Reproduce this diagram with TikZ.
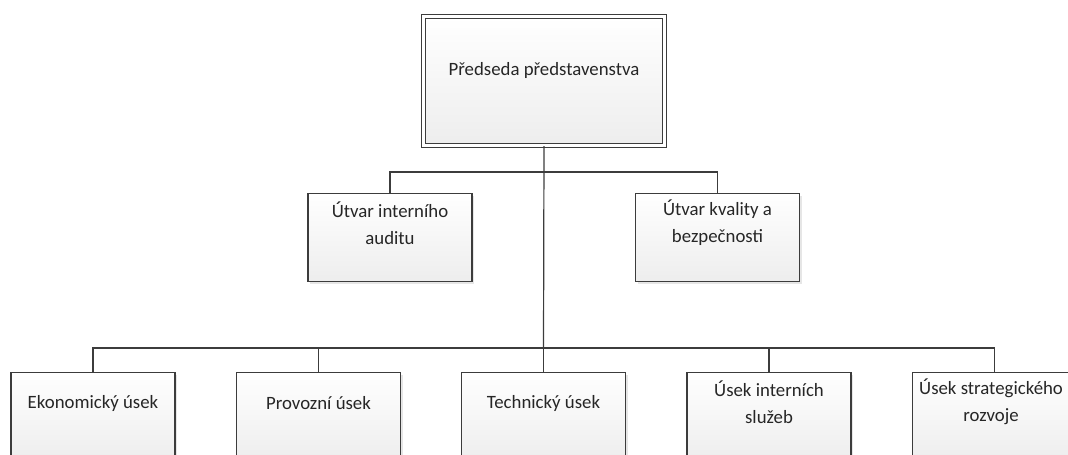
\documentclass[tikz,border=0pt]{standalone}
\usepackage{fontspec}
\setmainfont{Carlito}
\usetikzlibrary{shadows}
\definecolor{linegray}{HTML}{3C3C3C}
\begin{document}
\begin{tikzpicture}[x=1pt, y=-1pt,
    unit/.style={draw=linegray, line width=1.2pt, top color=white, bottom color=gray!14,
      minimum width=164pt, minimum height=88pt, inner sep=0pt, anchor=north,
      drop shadow={shadow xshift=2pt, shadow yshift=-2pt, opacity=.2}},
    lbl/.style={align=center, font=\fontsize{18.8}{27}\selectfont, text=black!85},
    conn/.style={draw=linegray, line width=1.2pt}]
  \useasboundingbox (0,0) rectangle (1068,455);
  \clip (0,0) rectangle (1068,455);

  % chairman
  \node [unit, anchor=center, minimum width=241pt, minimum height=129pt, line width=1.1pt,
    double=white, double distance=2.4pt] (pred) at (544,81) {};
  \node [lbl] (pred-t) at (544,70) {Předseda představenstva};

  % staff units
  \node [unit] (audit) at (390,193) {};
  \node [lbl] (audit-t) at (390,223) {Útvar interního\\auditu};
  \node [unit] (kval) at (717.5,193) {};
  \node [lbl] (kval-t) at (717.5,223) {Útvar kvality a\\bezpečnosti};

  % divisions
  \node [unit] (ekon) at (93,372) {};
  \node [lbl] (ekon-t) at (93,403) {Ekonomický úsek};
  \node [unit] (prov) at (318.5,372) {};
  \node [lbl] (prov-t) at (318.5,403) {Provozní úsek};
  \node [unit] (tech) at (543.5,372) {};
  \node [lbl] (tech-t) at (543.5,403) {Technický úsek};
  \node [unit] (sluz) at (769,372) {};
  \node [lbl] (sluz-t) at (769,402) {Úsek interních\\služeb};
  \node [unit] (strat) at (994.5,372) {};
  \node [lbl] (strat-t) at (991,402) {Úsek strategického\\rozvoje};

  \coordinate (bus2) at (543.5,172);
  \coordinate (bus3) at (543.5,348);
  \draw [conn] (pred.south) -- (bus3);
  \draw [conn] (audit.north) |- (bus2) -| (kval.north);
  \draw [conn] (ekon.north) |- (bus3) -| (strat.north);
  \draw [conn] (prov.north) |- (bus3);
  \draw [conn] (tech.north) -- (bus3);
  \draw [conn] (sluz.north) |- (bus3);
\end{tikzpicture}
\end{document}
